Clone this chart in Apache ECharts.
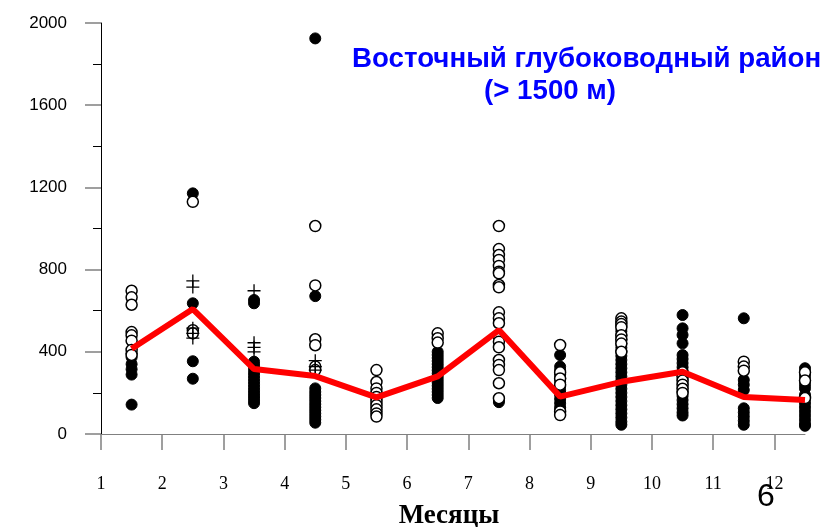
<!DOCTYPE html>
<html><head><meta charset="utf-8">
<script src="https://cdn.jsdelivr.net/npm/echarts@6/dist/echarts.min.js"></script>
<style>html,body{margin:0;padding:0;background:#fff}#c{width:827px;height:527px}</style>
</head><body><div id="c"></div>
<script>
// x positions (month centres) and tick labels
const monthPos = [1.5, 2.5, 3.5, 4.5, 5.5, 6.5, 7.5, 8.5, 9.5, 10.5, 11.5, 12.5];
const xTicks = [1, 2, 3, 4, 5, 6, 7, 8, 9, 10, 11, 12];
const yTicks = [0, 400, 800, 1200, 1600, 2000];
// mean (red line)
const meanValues = [415, 608, 316, 282, 178, 280, 506, 182, 254, 303, 180, 165];
// filled circles per month
const filledM1 = [393, 373, 340, 315, 289, 143];
const filledM2 = [1171, 636, 354, 269];
const filledM3 = [652, 636, 352, 335, 318, 300, 285, 270, 255, 240, 225, 210, 195, 180, 165, 150];
const filledM4 = [1925, 671, 222, 205, 190, 175, 160, 145, 130, 115, 100, 85, 70, 55];
const filledM5 = [190, 170, 150, 130, 110];
const filledM6 = [400, 385, 370, 355, 340, 325, 310, 295, 280, 265, 250, 235, 220, 205, 190, 175];
const filledM7 = [165, 155];
const filledM8 = [384, 328, 310, 290, 270, 250, 230, 210, 190, 170, 150, 130, 117];
const filledM9 = [522, 500, 480, 460, 440, 420, 400, 380, 360, 340, 320, 300, 280, 260, 240, 220, 200, 180, 160, 140, 120, 100, 80, 60, 45];
const filledM10 = [579, 514, 482, 441, 384, 365, 345, 325, 305, 285, 265, 245, 225, 205, 185, 165, 145, 125, 105, 90];
const filledM11 = [563, 263, 240, 214, 125, 105, 85, 65, 45];
const filledM12 = [320, 300, 280, 260, 240, 222, 190, 170, 150, 130, 110, 90, 70, 50, 40];
// open circles per month
const openM1 = [697, 665, 629, 496, 480, 454, 409, 385];
const openM2 = [1130, 505, 490];
const openM3 = [];
const openM4 = [1012, 723, 461, 432, 328, 311];
const openM5 = [311, 253, 222, 200, 180, 160, 140, 120, 100, 85];
const openM6 = [490, 466, 445];
const openM7 = [1012, 900, 871, 847, 818, 790, 782, 725, 714, 592, 563, 539, 474, 449, 422, 360, 336, 311, 247, 174];
const openM8 = [433, 300, 270, 240, 110, 92];
const openM9 = [563, 547, 535, 520, 480, 460, 440, 400];
const openM10 = [300, 280, 260, 240, 220, 200];
const openM11 = [352, 328, 308];
const openM12 = [300, 260, 175];
// plus signs per month
const plusM1 = [];
const plusM2 = [745, 715, 515, 490, 467];
const plusM3 = [697, 444, 422, 400];
const plusM4 = [357, 328, 311];
const plusM5 = [], plusM6 = [], plusM7 = [], plusM8 = [], plusM9 = [], plusM10 = [], plusM11 = [], plusM12 = [];

const filledAll = [filledM1, filledM2, filledM3, filledM4, filledM5, filledM6, filledM7, filledM8, filledM9, filledM10, filledM11, filledM12];
const openAll = [openM1, openM2, openM3, openM4, openM5, openM6, openM7, openM8, openM9, openM10, openM11, openM12];
const plusAll = [plusM1, plusM2, plusM3, plusM4, plusM5, plusM6, plusM7, plusM8, plusM9, plusM10, plusM11, plusM12];

function pairs(groups) {
  const out = [];
  groups.forEach((g, i) => g.forEach(v => out.push([monthPos[i], v])));
  return out;
}

const chart = echarts.init(document.getElementById('c'), null, {renderer: 'canvas'});
chart.setOption({
  animation: false,
  backgroundColor: '#ffffff',
  grid: {left: 101, right: 22, top: 23, bottom: 93, outerBoundsMode: 'none', containLabel: false},
  title: [
    {text: 'Восточный глубоководный район', left: 352, top: 45, padding: 0,
     textStyle: {color: '#0000ff', fontFamily: 'Liberation Sans, Arial', fontWeight: 'bold', fontSize: 27.7}},
    {text: '(> 1500 м)', left: 484, top: 77, padding: 0,
     textStyle: {color: '#0000ff', fontFamily: 'Liberation Sans, Arial', fontWeight: 'bold', fontSize: 27.7}}
  ],
  xAxis: {
    type: 'value', min: 1, max: 12.5, interval: 1,
    name: 'Месяцы', nameLocation: 'middle', nameGap: 69,
    nameTextStyle: {fontFamily: 'Liberation Serif, Times New Roman', fontWeight: 'bold', fontSize: 27, color: '#000', padding: [0, 8, 0, 0]},
    axisLine: {show: true, onZero: false, lineStyle: {color: '#808080', width: 1}},
    axisTick: {show: true, length: 16, customValues: xTicks, lineStyle: {color: '#808080', width: 1.5}},
    axisLabel: {customValues: xTicks, margin: 41, fontFamily: 'Liberation Serif, Times New Roman', fontSize: 18, color: '#000'},
    splitLine: {show: false}
  },
  yAxis: {
    type: 'value', min: 0, max: 2000, interval: 400,
    axisLine: {show: true, lineStyle: {color: '#000', width: 1}},
    axisTick: {show: true, length: 16, lineStyle: {color: '#808080', width: 1.5}},
    minorTick: {show: true, splitNumber: 2, length: 8, lineStyle: {color: '#000', width: 1}},
    axisLabel: {margin: 34, fontFamily: 'Liberation Sans, Arial', fontSize: 17, color: '#000',
      formatter: v => yTicks.includes(v) ? String(v) : ''},
    splitLine: {show: false}
  },
  graphic: [
    {type: 'text', left: 757, top: 481, style: {text: '6', fontSize: 32, fontFamily: 'Liberation Sans, Arial', fill: '#000'}}
  ],
  series: [
    {type: 'scatter', name: 'filled', data: pairs(filledAll), symbol: 'circle', symbolSize: 11,
     itemStyle: {color: '#000', borderColor: '#000', borderWidth: 1, opacity: 1}, z: 2},
    {type: 'scatter', name: 'open', data: pairs(openAll), symbol: 'circle', symbolSize: 11,
     itemStyle: {color: '#fff', borderColor: '#000', borderWidth: 1.5, opacity: 1}, z: 3},
    {type: 'scatter', name: 'plus', data: pairs(plusAll),
     symbol: 'path://M5.4,0h1.2v5.4h5.4v1.2h-5.4v5.4h-1.2v-5.4h-5.4v-1.2h5.4z', symbolSize: 13,
     itemStyle: {color: '#000', opacity: 1}, z: 4},
    {type: 'line', name: 'mean', data: monthPos.map((x, i) => [x, meanValues[i]]), showSymbol: false, symbol: 'none',
     lineStyle: {color: '#ff0000', width: 6}, z: 5}
  ]
});
</script></body></html>
